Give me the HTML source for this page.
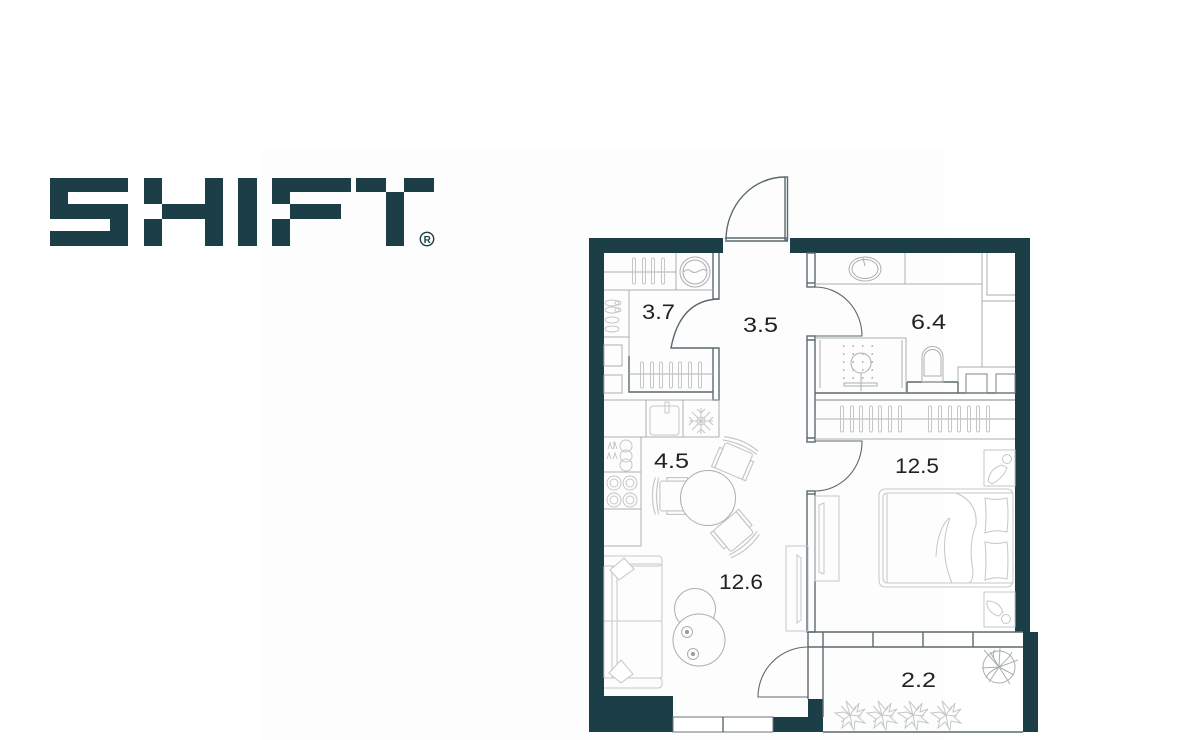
<!DOCTYPE html>
<html><head><meta charset="utf-8"><style>
html,body{margin:0;padding:0;background:#fff;width:1200px;height:740px;overflow:hidden}
svg{display:block}
text{font-family:"Liberation Sans",sans-serif;font-size:21px;fill:#222}
.f{fill:none;stroke:#c4c7c8;stroke-width:1}
.g{fill:none;stroke:#a9aeb0;stroke-width:1}
.d{fill:none;stroke:#5b6a6e;stroke-width:1.4}
.w{fill:#1c3f47}
</style></head><body>
<svg width="1200" height="740" viewBox="0 0 1200 740" xmlns="http://www.w3.org/2000/svg">
<defs>
<g id="h"><rect x="-1.5" y="0" width="3" height="26" rx="1.5" class="f"/></g>
<g id="p" class="f">
<path d="M0 0L-4-14L4-5L9-12L7-3L15-6L8 2L15 8L5 6L4 15L-1 7L-8 13L-6 4L-15-2L-6-3Z"/>
<path d="M0 0L-9-9M0 0L11 1M0 0L2 11M0 0L-9 7M0 0L6-9"/>
</g>
<g id="ch" class="f"><rect x="-14" y="-13" width="24" height="26" rx="2"/><path d="M-18-16Q-23 0-18 16M-15-16Q-19 0-15 16"/><rect x="-8" y="-16" width="18" height="3"/><rect x="-8" y="13" width="18" height="3"/></g>
</defs>
<rect width="1200" height="740" fill="#fff"/>
<rect x="260" y="150" width="685" height="590" fill="#fefdfe"/>

<!-- logo -->
<g class="w">
<path d="M50 178H128V192H68V204H128V246H50V231H110V219H50Z"/>
<rect x="144" y="178" width="18" height="26"/><rect x="144" y="219" width="18" height="27"/>
<rect x="162" y="204" width="43" height="15"/><rect x="205" y="178" width="18" height="68"/>
<rect x="238" y="178" width="19" height="68"/>
<rect x="272" y="178" width="79" height="14"/><rect x="272" y="192" width="18" height="12"/>
<rect x="290" y="204" width="51" height="15"/><rect x="272" y="219" width="18" height="27"/>
<rect x="356" y="178" width="30" height="14"/><rect x="404" y="178" width="30" height="14"/>
<rect x="386" y="192" width="18" height="54"/>
</g>
<circle cx="427" cy="239" r="6.7" fill="none" stroke="#1c3f47" stroke-width="1.4"/>
<text x="423.6" y="243" style="font-size:10px;font-weight:bold;fill:#1c3f47">R</text>

<!-- walls -->
<g class="w">
<path d="M589 238H723V253H604V696H673V717H773V717H808V699H823V732H589Z" />
<path d="M790 238H1030V632H1015V253H790Z"/>
<rect x="1023" y="632" width="15" height="100"/>
<rect x="1015" y="630" width="8" height="2"/>
</g>
<rect x="673" y="717" width="100" height="15" fill="#fff" stroke="#6a7578"/>
<path d="M723 717V732" class="d"/>

<!-- entry door -->
<path d="M726 240A59 63 0 0 1 785 177" class="d" stroke-width="1"/>
<rect x="785" y="177" width="2.5" height="63" class="d" stroke-width="1"/>
<path d="M725 238H788M725 241H788" class="d" stroke-width="1"/>

<!-- inner walls dark -->
<g class="d">
<rect x="807" y="253" width="8" height="34"/><path d="M807 283H815"/>
<rect x="807" y="336" width="8" height="106"/><path d="M807 340H815M807 438H815"/>
<rect x="807" y="491" width="8" height="141"/><path d="M807 494H815"/>
<path d="M815 287A47 49 0 0 1 862 336H815" stroke-width="1.1"/>
<path d="M815 441H862A47 49 0 0 1 815 491" stroke-width="1.1"/>
<path d="M713 253V299H719V253"/>
<path d="M719 299Q680 300 671 348H719V400H713V348"/>
<path d="M629 356V392H713"/>
<path d="M808 632H1023M823 647H1023M808 647H823M808 632V699M823 632V717"/>
<path d="M873 632V647M923 632V647M973 632V647"/>
<path d="M808 647A50 50 0 0 0 758 697H808" stroke-width="1.1"/>
<path d="M823 732H1023"/>
<path d="M815 393H1015M907 382H958V393M907 382V393"/>
</g>

<!-- laundry -->
<g class="g">
<path d="M604 272H676M676 253V290M604 290H713M629 290V356M604 337H629M604 400H719M629 374H713"/>
<rect x="604" y="345" width="18" height="21"/><rect x="604" y="375" width="18" height="18"/>
<circle cx="695" cy="272" r="15"/><circle cx="695" cy="272" r="12"/>
<path d="M683 272Q688 268 691 271T699 271T707 271"/>
</g>
<g class="f">
<use href="#h" x="634" y="258"/><use href="#h" x="644" y="258"/><use href="#h" x="653" y="258"/><use href="#h" x="663" y="258"/>
<use href="#h" x="642" y="362"/><use href="#h" x="652" y="362"/><use href="#h" x="661" y="362"/><use href="#h" x="671" y="362"/><use href="#h" x="680" y="362"/><use href="#h" x="690" y="362"/><use href="#h" x="700" y="362"/>
<ellipse cx="612" cy="303" rx="7" ry="3"/><ellipse cx="618" cy="303" rx="3" ry="2"/><ellipse cx="612" cy="310" rx="7" ry="3"/><ellipse cx="618" cy="310" rx="3" ry="2"/>
<ellipse cx="612" cy="320" rx="7" ry="3"/><ellipse cx="612" cy="329" rx="7" ry="3"/>
</g>

<!-- kitchen -->
<g class="g">
<path d="M604 437H719M646 400V437M683 400V437M719 400V437"/>
<path d="M641 437V546H604M604 472H641M604 509H641"/>
</g>
<g class="f">
<rect x="650" y="406" width="29" height="29" rx="3"/>
<path d="M665 402V413H669V402Z"/>
<path d="M701 408V434M689 421H713M692 412L710 430M710 412L692 430"/>
<circle cx="701" cy="421" r="4"/><path d="M697 409L701 413L705 409M697 433L701 429L705 433M689 417L693 421L689 425M713 417L709 421L713 425"/>
<circle cx="614" cy="483" r="7"/><circle cx="614" cy="483" r="4"/><circle cx="630" cy="483" r="7"/><circle cx="630" cy="483" r="4"/>
<circle cx="614" cy="500" r="7"/><circle cx="614" cy="500" r="4"/><circle cx="630" cy="500" r="7"/><circle cx="630" cy="500" r="4"/>
<circle cx="626" cy="446" r="6"/><circle cx="626" cy="456" r="6"/><circle cx="626" cy="465" r="6"/>
<path d="M614 441V449M608 449L610 443L612 449M613 449L615 443L617 449M607 459L609 453L611 459M613 459L615 453L617 459"/>
</g>

<!-- table and chairs -->
<use href="#ch" transform="translate(676,496) scale(1.15)"/>
<use href="#ch" transform="translate(733,463) rotate(113) scale(1.15)"/>
<use href="#ch" transform="translate(732,530) rotate(-130) scale(1.15)"/>
<circle cx="708" cy="498" r="27.5" class="g" fill="#fff" style="fill:#fefdfe"/>

<!-- sofa -->
<g class="f">
<path d="M604 556H658Q662 556 662 560V563Q662 566 658 566H604M604 678H658Q662 678 662 681V684Q662 688 658 688H604"/>
<rect x="617" y="564" width="45" height="57" rx="2"/><rect x="617" y="621" width="45" height="57" rx="2"/>
<path d="M604 621H617M604 566V678M612 566V678"/>
<path d="M610 570L624 558L634 569L619 580Z" fill="#fff"/>
<path d="M609 673L621 660L633 674L621 683Z" fill="#fff"/>
</g>
<g class="g">
<circle cx="695" cy="609" r="20.5"/><circle cx="699" cy="640" r="26" fill="#fefdfe"/>
<circle cx="687" cy="632" r="5.5"/><circle cx="693" cy="654" r="5.5"/>
</g>
<circle cx="687" cy="632" r="2" fill="#999"/><circle cx="693" cy="654" r="2" fill="#999"/>
<rect x="786" y="546" width="22" height="85" class="f"/>
<path d="M797 555L801 558V620L797 623Z" class="f"/>

<!-- bath -->
<g class="g">
<path d="M815 284H982M905 253V284M982 253V301H1015M987 253V295H1015M982 301V367M958 382V367H1015"/>
<rect x="966" y="374" width="21" height="19" stroke="#7a8689"/><rect x="996" y="374" width="19" height="19" stroke="#7a8689"/>
<ellipse cx="865" cy="269" rx="16" ry="12"/><ellipse cx="865" cy="269" rx="13" ry="9.5"/>
<path d="M863 258L865 266"/>
<path d="M815 338H906V393M820 340V388M902 340V388"/>
<circle cx="861" cy="363" r="10"/><path d="M861 373V391"/>
<rect x="844" y="383" width="33" height="3"/>
<path d="M931 382H943V357A10 10 0 0 0 922 357V382ZM924 376H941V358A8 8 0 0 0 924 358Z"/>
</g>
<g fill="none" stroke="#b7bbbd" stroke-width="2" stroke-dasharray="1.5 8">
<path d="M843 346H878M843 354H878M843 362H878M843 370H878M843 378H878"/>
</g>

<!-- wardrobe -->
<g class="g"><path d="M815 400H1015M815 439H1015M815 419H1015"/></g>
<path d="M815 400H1015" stroke="#7a8689" stroke-width="1" fill="none"/>
<g>
<use href="#h" x="842" y="406"/><use href="#h" x="852" y="406"/><use href="#h" x="861" y="406"/><use href="#h" x="871" y="406"/><use href="#h" x="880" y="406"/><use href="#h" x="890" y="406"/><use href="#h" x="900" y="406"/>
<use href="#h" x="930" y="406"/><use href="#h" x="940" y="406"/><use href="#h" x="950" y="406"/><use href="#h" x="959" y="406"/><use href="#h" x="969" y="406"/><use href="#h" x="978" y="406"/><use href="#h" x="988" y="406"/>
</g>

<!-- bedroom -->
<g class="f">
<rect x="815" y="496" width="24" height="85"/>
<path d="M819 505L824 503V574L819 572Z"/>
<rect x="879" y="489" width="134" height="98" rx="6"/>
<path d="M1013 493H888Q883 493 883 498V578Q883 583 888 583H1013M887 493V583"/>
<path d="M956 493Q978 502 976 525Q968 545 973 570Q973 583 968 583M952 583Q938 550 950 518M949 518Q937 530 936 557"/>
<path d="M985 498Q996 501 1007 498Q1009 515 1007 532Q996 529 985 533Q987 515 985 498Z"/>
<path d="M985 542Q996 545 1007 542Q1009 560 1007 579Q996 576 985 580Q987 560 985 542Z"/>
<rect x="984" y="450" width="31" height="36"/>
<rect x="984" y="592" width="31" height="35"/>
<path d="M988 481Q990 468 1002 465L1007 468Q1003 478 992 484Z"/><circle cx="1007" cy="459" r="4.5"/>
<path d="M987 601Q999 601 1003 612L999 616Q990 614 987 605Z"/><circle cx="1006" cy="619" r="4.5"/>
</g>

<!-- balcony -->
<g>
<use href="#p" x="850" y="715"/><use href="#p" x="882" y="715"/><use href="#p" x="913" y="715"/><use href="#p" x="946" y="715"/>
</g>
<g class="g">
<circle cx="999" cy="667" r="16"/>
<path d="M984 650L999 667L989 682M999 667L1018 660M999 667L1010 684M999 667L1000 648M999 667L982 668M999 667L1014 675M999 667L990 652"/>
<path d="M999 667Q990 655 995 650M999 667Q1010 657 1012 652M999 667Q988 672 986 678"/>
</g>

<!-- labels -->
<text x="642" y="319" textLength="33" lengthAdjust="spacingAndGlyphs">3.7</text>
<text x="743" y="332" textLength="35" lengthAdjust="spacingAndGlyphs">3.5</text>
<text x="911" y="329" textLength="35" lengthAdjust="spacingAndGlyphs">6.4</text>
<text x="895" y="473" textLength="44" lengthAdjust="spacingAndGlyphs">12.5</text>
<text x="654" y="468" textLength="35" lengthAdjust="spacingAndGlyphs">4.5</text>
<text x="719" y="589" textLength="44" lengthAdjust="spacingAndGlyphs">12.6</text>
<text x="901" y="687" textLength="35" lengthAdjust="spacingAndGlyphs">2.2</text>
</svg>
</body></html>
